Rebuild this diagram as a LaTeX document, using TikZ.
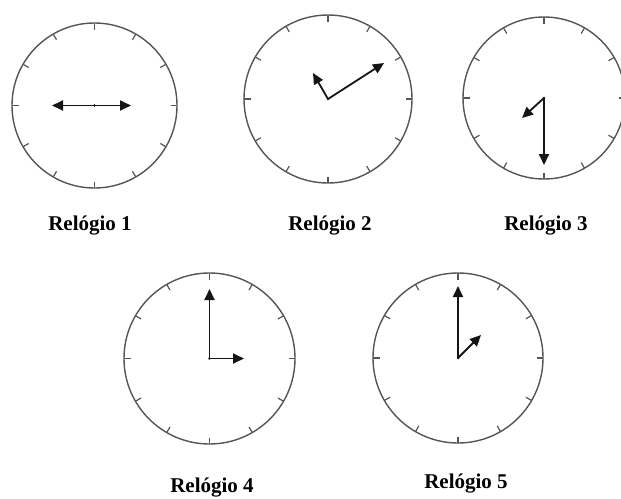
\documentclass[tikz,border=0pt]{standalone}
\usepackage{fontspec}
\setmainfont{Liberation Serif}
\usetikzlibrary{arrows.meta}
\definecolor{facegray}{HTML}{555555}
\definecolor{handcol}{HTML}{151515}
\tikzset{
  face/.style={draw=facegray, line width=1.4pt},
  tickmark/.style={draw=facegray, line width=1.2pt},
  hand/.style={draw=handcol, line width=1.8pt, -{Triangle[length=11pt,width=10pt]}},
  pivot/.style={fill=handcol},
  lbl/.style={font=\fontsize{21}{25}\selectfont\bfseries, anchor=base, inner sep=0pt}
}
\begin{document}
\begin{tikzpicture}[x=1pt,y=-1pt]
\useasboundingbox (0,0) rectangle (621,498);
\clip (0,0) rectangle (621,498);
% centres
\coordinate (c1) at (94.5,105.5);
\coordinate (c2) at (328,99);
\coordinate (c3) at (544,98);
\coordinate (c4) at (209.5,358.5);
\coordinate (c5) at (458,358);
% faces
\draw[face] (c1) circle (82.5);
\draw[face] (c2) circle (84);
\draw[face] (c3) circle (81);
\draw[face] (c4) circle (85.5);
\draw[face] (c5) circle (85);
\foreach \a in {0,30,...,330}{
  \draw[tickmark, shift={(c1)}] (\a:82.5) -- (\a:76);
  \draw[tickmark, shift={(c2)}] (\a:84) -- (\a:77.5);
  \draw[tickmark, shift={(c3)}] (\a:81) -- (\a:74.5);
  \draw[tickmark, shift={(c4)}] (\a:85.5) -- (\a:79);
  \draw[tickmark, shift={(c5)}] (\a:85) -- (\a:78.5);
}
% hand tips
\coordinate (h1a) at (52,105.5);
\coordinate (h1b) at (131,105.5);
\coordinate (h2m) at (384,63);
\coordinate (h2h) at (313,73);
\coordinate (h3m) at (544,165);
\coordinate (h3h) at (522,118);
\coordinate (h4m) at (209.5,289);
\coordinate (h4h) at (244,358.5);
\coordinate (h5m) at (458,286);
\coordinate (h5h) at (481,335);
% hands
\draw[hand] (c1) -- (h1a);
\draw[hand] (c1) -- (h1b);
\draw[hand] (c2) -- (h2m);
\draw[hand] (c2) -- (h2h);
\draw[hand] (c3) -- (h3m);
\draw[hand] (c3) -- (h3h);
\draw[hand] (c4) -- (h4m);
\draw[hand] (c4) -- (h4h);
\draw[hand] (c5) -- (h5m);
\draw[hand] (c5) -- (h5h);
\foreach \c in {c1,c2,c3,c4,c5} \fill[pivot] (\c) circle (1.4);
% labels
\node[lbl] (l1) at (90,230) {Relógio 1};
\node[lbl] (l2) at (330,230) {Relógio 2};
\node[lbl] (l3) at (546,230) {Relógio 3};
\node[lbl] (l4) at (212,492) {Relógio 4};
\node[lbl] (l5) at (466,488) {Relógio 5};
\end{tikzpicture}
\end{document}
